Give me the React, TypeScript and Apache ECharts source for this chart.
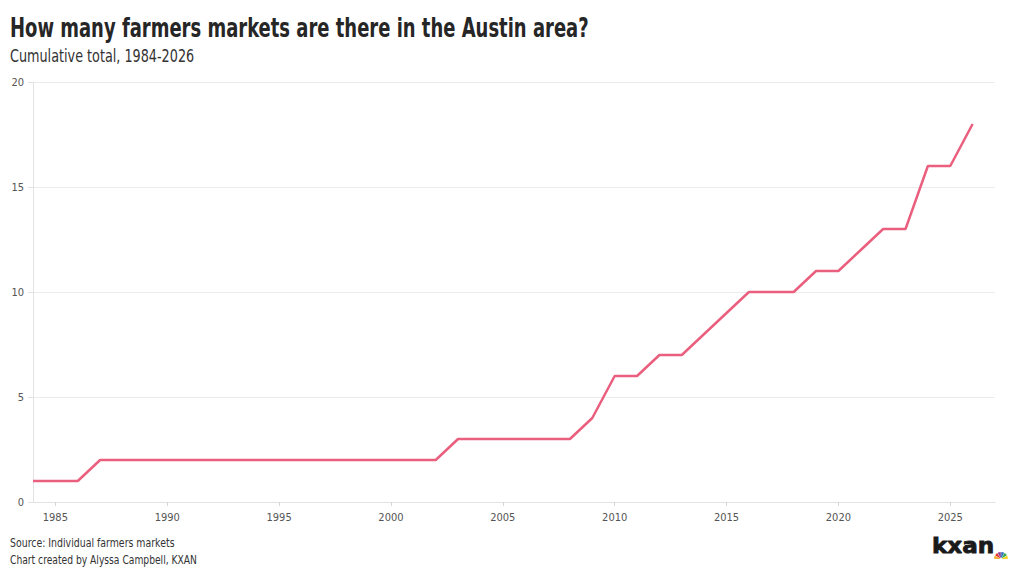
import React, { useRef, useEffect } from 'react';
import * as echarts from 'echarts';

const years = [
    1984, 1985, 1986, 1987, 1988, 1989, 1990, 1991, 1992, 1993, 1994, 1995, 1996, 1997,
    1998, 1999, 2000, 2001, 2002, 2003, 2004, 2005, 2006, 2007, 2008, 2009, 2010, 2011,
    2012, 2013, 2014, 2015, 2016, 2017, 2018, 2019, 2020, 2021, 2022, 2023, 2024, 2025, 2026
];
const markets = [
    1, 1, 1, 2, 2, 2, 2, 2, 2, 2, 2, 2, 2, 2,
    2, 2, 2, 2, 2, 3, 3, 3, 3, 3, 3, 4, 6, 6,
    7, 7, 8, 9, 10, 10, 10, 11, 11, 12, 13, 13, 16, 16, 18
];
const xTicks = [1985, 1990, 1995, 2000, 2005, 2010, 2015, 2020, 2025];

const FONT = '"DejaVu Sans Condensed", "Liberation Sans Narrow", sans-serif';

// NBC peacock colours, left to right
const peacock = ['#f5a623', '#e4342d', '#8d3f97', '#2c6fb7', '#2fa84f', '#f7d11c'];

const App = () => {
    const chartRef = useRef(null);

    useEffect(() => {
        const chart = echarts.init(chartRef.current, null, { renderer: 'svg' });

        const feathers = peacock.map((c, i) => ({
            type: 'sector',
            shape: {
                cx: 0,
                cy: 0,
                r: 7,
                r0: 1.3,
                startAngle: Math.PI + (i * Math.PI) / 6 + 0.04,
                endAngle: Math.PI + ((i + 1) * Math.PI) / 6 - 0.04
            },
            style: { fill: c }
        }));

        const option = {
            animation: false,
            textStyle: { fontFamily: FONT },
            grid: { left: 33, right: 25, top: 82, bottom: 77 },
            xAxis: {
                type: 'value',
                min: 1984,
                max: 2027,
                axisLine: { show: true, lineStyle: { color: '#e3e3e3' } },
                axisTick: { show: true, length: 4, customValues: xTicks, lineStyle: { color: '#d6d6d6' } },
                axisLabel: {
                    customValues: xTicks,
                    formatter: (v: number) => String(v),
                    color: '#555',
                    fontSize: 11,
                    fontFamily: FONT,
                    margin: 10
                },
                splitLine: { show: false }
            },
            yAxis: {
                type: 'value',
                min: 0,
                max: 20,
                interval: 5,
                axisLine: { show: true, lineStyle: { color: '#e3e3e3' } },
                axisTick: { show: true, length: 5, lineStyle: { color: '#e3e3e3' } },
                axisLabel: { color: '#555', fontSize: 11, fontFamily: FONT, margin: 9 },
                splitLine: { show: true, lineStyle: { color: '#ececec' } }
            },
            series: [
                {
                    type: 'line',
                    data: years.map((y, i) => [y, markets[i]]),
                    symbol: 'none',
                    lineStyle: { color: '#ea5f7e', width: 2.5 },
                    itemStyle: { color: '#ea5f7e' }
                }
            ],
            graphic: [
                {
                    type: 'text',
                    x: 10,
                    y: 28,
                    scaleX: 0.74,
                    style: {
                        text: 'How many farmers markets are there in the Austin area?',
                        font: 'bold 27px ' + FONT,
                        fill: '#262626',
                        verticalAlign: 'middle'
                    }
                },
                {
                    type: 'text',
                    x: 10,
                    y: 56,
                    scaleX: 0.79,
                    style: {
                        text: 'Cumulative total, 1984-2026',
                        font: '18px ' + FONT,
                        fill: '#333',
                        verticalAlign: 'middle'
                    }
                },
                {
                    type: 'text',
                    x: 10,
                    y: 543,
                    scaleX: 0.87,
                    style: {
                        text: 'Source: Individual farmers markets',
                        font: '12px ' + FONT,
                        fill: '#333',
                        verticalAlign: 'middle'
                    }
                },
                {
                    type: 'text',
                    x: 10,
                    y: 560,
                    scaleX: 0.85,
                    style: {
                        text: 'Chart created by Alyssa Campbell, KXAN',
                        font: '12px ' + FONT,
                        fill: '#333',
                        verticalAlign: 'middle'
                    }
                },
                {
                    type: 'text',
                    x: 932,
                    y: 556,
                    scaleX: 1.1,
                    style: {
                        text: 'kxan',
                        font: 'bold 21px "DejaVu Sans", sans-serif',
                        fill: '#1a1a1a',
                        stroke: '#1a1a1a',
                        lineWidth: 0.8,
                        verticalAlign: 'bottom'
                    }
                },
                {
                    type: 'group',
                    x: 1001,
                    y: 559,
                    children: feathers
                }
            ]
        };

        chart.setOption(option);

        const handleResize = () => {
            chart.resize();
        };
        window.addEventListener('resize', handleResize);

        return () => {
            window.removeEventListener('resize', handleResize);
            chart.dispose();
        };
    }, []);

    return (
        <div
            ref={chartRef}
            style={{
                position: 'absolute',
                left: 0,
                top: 0,
                width: '1020px',
                height: '579px'
            }}
        />
    );
};

export default App;
